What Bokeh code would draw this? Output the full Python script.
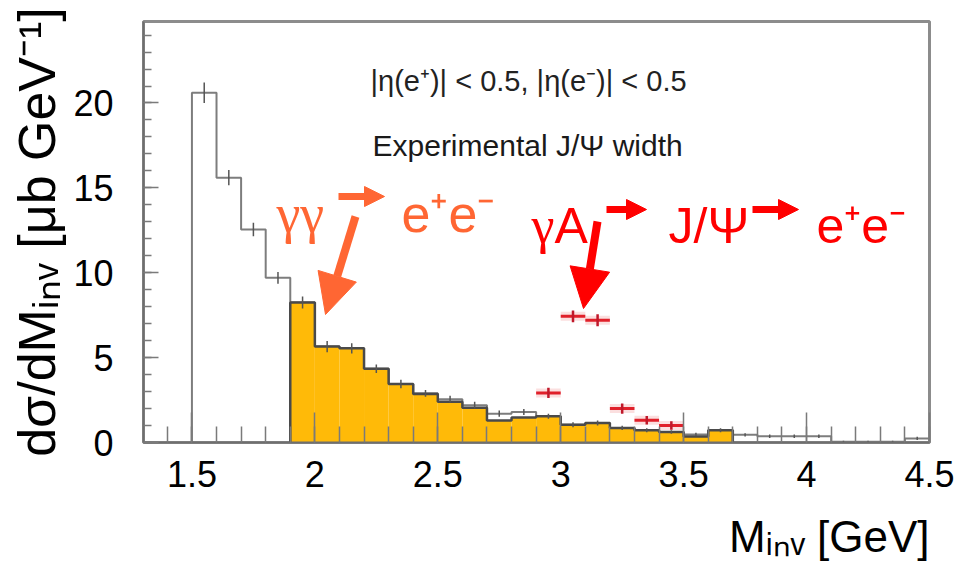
from bokeh.plotting import figure
from bokeh.models import (Range1d, Label, Arrow, NormalHead, Title,
                          SingleIntervalTicker, PrintfTickFormatter)
from bokeh.embed import file_html
from bokeh.resources import INLINE

# ---------------------------------------------------------------- data
# invariant-mass bins [GeV]
bin_edges = [1.5, 1.6, 1.7, 1.8, 1.9, 2.0, 2.1, 2.2, 2.3, 2.4, 2.5,
             2.6, 2.7, 2.8, 2.9, 3.0, 3.1, 3.2, 3.3, 3.4, 3.5,
             3.6, 3.7, 3.8, 3.9, 4.0, 4.1, 4.2, 4.3, 4.4, 4.5]

# total dsigma/dM_inv [ub/GeV] per bin
dsigma_total = [20.6, 15.6, 12.55, 9.7, 8.25, 5.65, 5.55, 4.35, 3.45, 2.9,
                2.55, 2.2, 1.7, 1.8, 1.55, 1.05, 1.15, 0.86, 0.72, 0.62,
                0.47, 0.72, 0.45, 0.37, 0.37, 0.37, 0.05, 0.05, 0.05, 0.24]
err_total = [0.6, 0.45, 0.4, 0.35, 0.35, 0.33, 0.3, 0.25, 0.25, 0.2,
             0.2, 0.2, 0.18, 0.18, 0.15, 0.15, 0.15, 0.12, 0.12, 0.1,
             0.1, 0.12, 0.1, 0.1, 0.1, 0.1, 0.05, 0.05, 0.05, 0.1]

# gamma gamma -> e+e- continuum, 1.9 - 3.7 GeV
ee_edges = [1.9, 2.0, 2.1, 2.2, 2.3, 2.4, 2.5, 2.6, 2.7, 2.8,
            2.9, 3.0, 3.1, 3.2, 3.3, 3.4, 3.5, 3.6, 3.7]
dsigma_ee = [8.25, 5.65, 5.55, 4.35, 3.45, 2.85, 2.4, 2.05, 1.3,
             1.47, 1.55, 1.05, 1.15, 0.86, 0.72, 0.62, 0.35, 0.72]

# gamma A -> J/Psi -> e+e- points
jpsi_mass = [2.95, 3.05, 3.15, 3.25, 3.35, 3.45]
jpsi_dsigma = [2.92, 7.43, 7.2, 2.0, 1.31, 1.0]
jpsi_err = [0.3, 0.35, 0.35, 0.3, 0.25, 0.25]
jpsi_half_bin = 0.05

x_title = "Mᵢₙᵥ [GeV]"
y_title = "dσ/dMᵢₙᵥ [μb GeV⁻¹]"

# ---------------------------------------------------------------- styles
ORANGE_FILL = "#FFBA08"
ORANGE_TXT = "#FF6633"
RED = "#FF0000"
SANS = "Liberation Sans"
SERIF = "Liberation Serif"

X0, X1 = 1.303, 4.5
Y0, Y1 = 0.0, 24.8
FL, FR, FT, FB = 143, 929, 21, 442     # frame box in canvas pixels


def dx(px):
    return X0 + (px - FL) * (X1 - X0) / (FR - FL)


def dy(py):
    return Y0 + (FB - py) * (Y1 - Y0) / (FB - FT)


def step_path(edges, vals):
    xs, ys = [edges[0]], [0.0]
    for lo, hi, v in zip(edges[:-1], edges[1:], vals):
        xs += [lo, hi]
        ys += [v, v]
    xs.append(edges[-1])
    ys.append(0.0)
    return xs, ys


p = figure(width=961, height=580, output_backend="svg", toolbar_location=None,
           x_range=Range1d(X0, X1), y_range=Range1d(Y0, Y1),
           min_border_left=FL, min_border_right=961 - FR,
           min_border_top=FT, min_border_bottom=580 - FB)
p.grid.visible = False
p.background_fill_color = "white"
p.border_fill_color = "white"
p.outline_line_color = "#8c8c8c"
p.outline_line_width = 3

# axes: ticks point into the frame
p.xaxis.ticker = SingleIntervalTicker(interval=0.5, num_minor_ticks=5)
p.yaxis.ticker = SingleIntervalTicker(interval=5, num_minor_ticks=5)
p.xaxis.formatter = PrintfTickFormatter(format="%g")
p.yaxis.formatter = PrintfTickFormatter(format="%g")
for ax in (p.xaxis, p.yaxis):
    ax.axis_line_color = "#6e6e6e"
    ax.axis_line_width = 2
    ax.major_tick_line_color = "#7a7a7a"
    ax.minor_tick_line_color = "#7a7a7a"
    ax.major_tick_line_width = 1.5
    ax.minor_tick_line_width = 1.5
    ax.major_tick_out = 0
    ax.minor_tick_out = 0
    ax.major_label_text_font = SANS
    ax.major_label_text_font_size = "36px"
    ax.major_label_text_color = "black"
p.xaxis.major_tick_in = 30
p.xaxis.minor_tick_in = 16
p.yaxis.major_tick_in = 15
p.yaxis.minor_tick_in = 8
p.xaxis.major_label_standoff = 18
p.yaxis.major_label_standoff = 30

# axis titles
p.yaxis.axis_label = y_title
p.yaxis.axis_label_text_font = SANS
p.yaxis.axis_label_text_font_style = "normal"
p.yaxis.axis_label_text_color = "black"
p.yaxis.axis_label_text_font_size = "52px"
p.yaxis.axis_label_standoff = 4
# blank spacer row between the tick labels and the x title
p.add_layout(Title(text=" ", text_font_size="14px", standoff=0), "below")
p.add_layout(Title(text=x_title, align="right", text_font=SANS,
                   text_font_size="44px", text_font_style="normal",
                   text_color="black", standoff=4), "below")

# total spectrum outline
tx, ty = step_path(bin_edges, dsigma_total)
p.line(tx, ty, line_color="#7d7d7d", line_width=2)

# gamma gamma -> e+e- filled histogram
p.quad(left=ee_edges[:-1], right=ee_edges[1:], bottom=0, top=dsigma_ee,
       fill_color=ORANGE_FILL, line_color=None)
ex, ey = step_path(ee_edges, dsigma_ee)
p.line(ex, ey, line_color="#4a4a4a", line_width=2.5)

# statistical error bars of the total spectrum
centers = [(lo + hi) / 2 for lo, hi in zip(bin_edges[:-1], bin_edges[1:])]
p.segment(x0=centers, x1=centers,
          y0=[v - e for v, e in zip(dsigma_total, err_total)],
          y1=[v + e for v, e in zip(dsigma_total, err_total)],
          line_color="#555555", line_width=1.5)

# J/Psi points with a soft halo
lo_x = [m - jpsi_half_bin for m in jpsi_mass]
hi_x = [m + jpsi_half_bin for m in jpsi_mass]
p.segment(x0=lo_x, x1=hi_x, y0=jpsi_dsigma, y1=jpsi_dsigma,
          line_color="#f08080", line_alpha=0.25, line_width=9)
p.segment(x0=lo_x, x1=hi_x, y0=jpsi_dsigma, y1=jpsi_dsigma,
          line_color="#e0202a", line_width=3)
p.segment(x0=jpsi_mass, x1=jpsi_mass,
          y0=[v - e for v, e in zip(jpsi_dsigma, jpsi_err)],
          y1=[v + e for v, e in zip(jpsi_dsigma, jpsi_err)],
          line_color="#c0182a", line_width=2.5)


def label(px, py, text, font=SANS, size=36, color="#222222"):
    p.add_layout(Label(x=dx(px), y=dy(py), text=text, text_font=font,
                       text_font_size=f"{size}px", text_color=color,
                       text_align="left", text_baseline="alphabetic"))


# cut description
label(370, 80, "|η(e⁺)| < 0.5, |η(e⁻)| < 0.5", size=29)
label(372, 145, "Experimental J/Ψ width", size=30, color="#1a1a1a")

# gamma gamma -> e+e-
label(276, 213, "γγ", font=SERIF, size=54, color=ORANGE_TXT)
label(401, 213, "e⁺e⁻", size=52, color=ORANGE_TXT)
p.add_layout(Arrow(x_start=dx(338), y_start=dy(196), x_end=dx(384), y_end=dy(196),
                   line_color=ORANGE_TXT, line_width=7,
                   end=NormalHead(size=20, fill_color=ORANGE_TXT,
                                  line_color=ORANGE_TXT, line_width=1)))
p.add_layout(Arrow(x_start=dx(355), y_start=dy(216), x_end=dx(325), y_end=dy(314),
                   line_color=ORANGE_TXT, line_width=8,
                   end=NormalHead(size=40, fill_color=ORANGE_TXT,
                                  line_color=ORANGE_TXT, line_width=1)))

# gamma A -> J/Psi -> e+e-
label(531, 225, "γ", font=SERIF, size=52, color=RED)
label(554, 225, "A", size=50, color=RED)
label(668, 225, "J/Ψ", size=50, color=RED)
label(816, 225, "e⁺e⁻", size=50, color=RED)
for x_a, x_b in ((606, 646), (752, 798)):
    p.add_layout(Arrow(x_start=dx(x_a), y_start=dy(209), x_end=dx(x_b), y_end=dy(209),
                       line_color=RED, line_width=7,
                       end=NormalHead(size=20, fill_color=RED,
                                      line_color=RED, line_width=1)))
p.add_layout(Arrow(x_start=dx(597), y_start=dy(221), x_end=dx(583), y_end=dy(308),
                   line_color=RED, line_width=8,
                   end=NormalHead(size=40, fill_color=RED,
                                  line_color=RED, line_width=1)))

open("out.html", "w").write(file_html(p, INLINE))
